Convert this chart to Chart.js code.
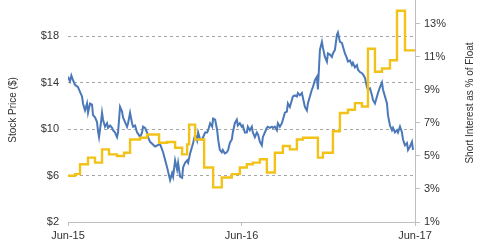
<!DOCTYPE html>
<html lang="en">
<head>
    <meta charset="UTF-8">
    <title>Stock Price vs Short Interest</title>
    <script src="https://cdn.jsdelivr.net/npm/chart.js"></script>
    <style>
        body { margin: 0; background: #fff; }
        #wrap { width: 480px; height: 251px; position: relative; }
    </style>
</head>
<body>
    <div id="wrap"><canvas id="chart"></canvas></div>

    <script>
        // x axis is in weeks from Jun-15
        const xTickWeeks = [0, 52, 104];
        const xTickLabels = ['Jun-15', 'Jun-16', 'Jun-17'];
        const priceTicks = [2, 6, 10, 14, 18];
        const shortTicks = [1, 3, 5, 7, 9, 11, 13];

        // stock price ($)
        const priceWeeks = [
            0, 0.6, 1.0, 1.5, 2.1, 3.0, 3.6, 4.2, 4.5, 5.1, 5.7, 6.0, 6.6, 7.2, 7.5, 8.1, 8.7, 9.0, 9.3, 9.9,
            10.2, 10.5, 11.1, 11.7, 12.0, 12.6, 13.2, 13.5, 14.1, 14.7, 15.0, 15.6, 16.2, 16.5, 17.1, 17.7, 18.0, 18.6, 19.2, 19.5,
            20.1, 20.7, 21.0, 21.6, 22.2, 22.5, 23.1, 23.7, 24.0,
            24.6, 26.1, 27.6, 28.5, 29.7, 30.6, 31.2, 31.5, 32.1, 32.7, 33.0, 33.6, 34.2, 34.5, 35.1, 35.7, 36.0, 36.6, 37.2, 37.5,
            38.1, 38.7, 39.0, 39.6, 40.2, 40.5, 41.1, 41.7, 42.0, 42.6, 43.2, 43.5, 44.1, 44.7, 45.0, 45.5, 46.1, 46.4, 47.0, 47.6,
            48.0, 48.5, 49.1, 49.4, 50.0, 50.6, 50.9, 51.5, 52.1, 52.4, 53.0, 53.6, 53.9, 54.5, 55.1, 55.4, 56.0, 56.6, 57.0, 57.5,
            58.1, 58.4, 59.0, 59.6, 59.9, 60.5, 61.1, 61.4, 62.0, 62.6, 62.9, 63.5, 64.1, 64.4, 65.0, 65.6, 65.9, 66.5, 67.1, 67.4,
            68.0, 68.6, 68.9, 69.5, 70.1, 70.4, 71.0, 71.6, 71.9, 72.5, 73.1, 73.4, 74.0, 74.6, 74.9,
            75.5, 76.1, 76.4, 77.0, 77.6, 77.9, 78.5, 79.1, 79.4, 80.0, 80.6, 80.9, 81.5, 82.1, 82.4, 83.0, 83.6, 83.9, 84.5, 85.1,
            85.4, 86.0, 86.6, 86.9, 87.5, 88.1, 88.4, 89.0, 89.6, 89.9, 90.5, 91.1, 91.4, 92.0, 92.6, 92.9, 93.5, 94.1, 94.4, 95.0,
            95.6, 95.9, 96.5, 97.1, 97.4, 98.0, 98.6, 98.9, 99.5, 100.1, 100.4, 101.0, 101.6, 101.9, 102.5, 103.1, 103.4
        ];
        const prices = [
            14.5, 14.1, 14.6, 14.2, 13.8, 13.6, 13.2, 12.8, 12.2, 11.6, 12.2, 11.4, 12.2, 12.1, 11.2, 11.0, 10.6, 9.8, 9.3, 10.6,
            11.4, 10.8, 10.2, 10.5, 10.1, 10.3, 10.1, 9.9, 9.7, 9.3, 9.7, 11.9, 11.5, 11.0, 10.6, 10.2, 10.5, 11.4, 10.5, 10.2,
            10.3, 9.7, 9.6, 9.3, 9.7, 10.2, 10.1, 9.7, 9.3,
            8.9, 8.5, 8.7, 8.0, 6.7, 5.6, 6.2, 5.9, 7.3, 6.5, 7.1, 5.9, 5.8, 6.7, 7.1, 7.3, 7.1, 7.9, 8.5, 8.8,
            9.5, 9.0, 9.7, 9.1, 9.1, 9.3, 9.7, 9.7, 9.9, 10.5, 10.2, 10.9, 10.8, 9.9, 9.1, 8.2, 8.0, 8.2, 7.9, 8.0,
            8.2, 8.8, 9.1, 9.7, 10.5, 10.8, 10.3, 10.5, 10.2, 10.3, 9.7, 9.7, 10.2, 9.9, 10.2, 9.7, 9.3, 9.7, 9.5, 8.9,
            8.6, 9.3, 9.7, 10.1, 10.2, 10.1, 10.2, 10.1, 10.2, 9.9, 10.5, 10.2, 10.5, 10.8, 11.4, 11.5, 12.2, 11.9, 12.5, 12.8,
            12.9, 12.8, 13.1, 12.9, 13.1, 12.7, 11.9, 11.6, 12.2, 12.8, 13.4, 13.6, 14.2, 14.5, 13.4,
            16.8, 17.5, 17.0, 16.2, 15.8, 16.5, 16.4, 16.2, 16.5, 16.8, 18.1, 18.3, 17.5, 17.4, 17.1, 16.5, 16.1, 15.8, 15.9, 15.5,
            15.7, 15.3, 15.5, 15.1, 14.9, 14.8, 14.7, 14.4, 13.6, 13.4, 13.5, 12.9, 12.5, 12.2, 12.8, 13.1, 13.6, 14.0, 13.4, 12.8,
            12.2, 11.2, 10.3, 9.9, 10.1, 9.7, 9.9, 9.7, 10.2, 9.7, 9.1, 8.6, 8.8, 8.2, 8.5, 8.9, 8.2
        ];

        // short interest (% of float), value holds until the next report
        const shortWeeks = [
            0, 2.1, 3.6, 6.0, 8.1, 10.2, 12.3, 14.7, 16.8, 18.6, 21.6, 23.7, 27.3, 29.7, 32.1, 34.2, 35.7, 36.3, 38.1, 40.8,
            43.5, 46.1, 49.1, 51.5, 53.6, 55.4, 57.5, 59.6, 62.0, 64.4, 66.5, 68.6, 70.4, 74.9, 76.4, 79.4, 81.5, 83.9, 86.0, 88.1,
            89.9, 92.0, 94.1, 96.5, 98.6, 101.0, 104
        ];
        const shortPct = [
            3.8, 3.9, 4.5, 4.9, 4.6, 5.4, 5.1, 5.0, 5.2, 6.0, 6.1, 6.3, 5.8, 5.85, 5.5, 5.1, 5.7, 6.9, 6.0, 4.3,
            3.1, 3.7, 3.9, 4.3, 4.5, 4.6, 4.8, 4.0, 5.2, 5.6, 5.4, 6.0, 6.1, 4.9, 5.2, 6.5, 7.6, 7.8, 8.2, 8.0,
            11.5, 10.1, 10.3, 10.8, 13.8, 11.4, 11.4
        ];

        const axisGray = '#bfbfbf';
        const textColor = '#333333';
        const tickFont = { family: 'Liberation Sans, Arial, sans-serif', size: 11 };

        // side titles read bottom-to-top on both sides
        const sideTitles = {
            id: 'sideTitles',
            afterDraw(chart) {
                const ctx = chart.ctx;
                ctx.save();
                ctx.fillStyle = textColor;
                ctx.font = '10px "Liberation Sans", Arial, sans-serif';
                ctx.textAlign = 'center';
                ctx.textBaseline = 'middle';
                [[13, 110, 'Stock Price ($)'], [470, 103, 'Short Interest as % of Float']].forEach(t => {
                    ctx.save();
                    ctx.translate(t[0], t[1]);
                    ctx.rotate(-Math.PI / 2);
                    ctx.fillText(t[2], 0, 0);
                    ctx.restore();
                });
                ctx.restore();
            }
        };

        new Chart(document.getElementById('chart'), {
            type: 'line',
            data: {
                datasets: [{
                    label: 'Short Interest',
                    data: shortWeeks.map((w, i) => ({ x: w, y: shortPct[i] })),
                    yAxisID: 'y2',
                    borderColor: '#f2c218',
                    borderWidth: 2.4,
                    stepped: true,
                    pointRadius: 0,
                    fill: false
                }, {
                    label: 'Stock Price',
                    data: priceWeeks.map((w, i) => ({ x: w, y: prices[i] })),
                    yAxisID: 'y',
                    borderColor: '#4a78b8',
                    borderWidth: 2,
                    pointRadius: 0,
                    tension: 0,
                    fill: false
                }]
            },
            options: {
                responsive: true,
                maintainAspectRatio: false,
                animation: false,
                layout: { padding: 0 },
                plugins: { legend: { display: false }, tooltip: { enabled: false } },
                scales: {
                    x: {
                        type: 'linear',
                        min: 0,
                        max: 104,
                        afterBuildTicks: s => { s.ticks = xTickWeeks.map(v => ({ value: v })); },
                        afterFit: s => { s.height = 29; },
                        ticks: {
                            callback: (v) => xTickLabels[xTickWeeks.indexOf(v)],
                            color: textColor,
                            font: tickFont,
                            padding: 3,
                            maxRotation: 0,
                            autoSkip: false
                        },
                        grid: { drawOnChartArea: false, drawTicks: true, tickLength: 4, color: axisGray },
                        border: { display: true, color: axisGray }
                    },
                    y: {
                        position: 'left',
                        min: 2,
                        max: 21.1,
                        afterBuildTicks: s => { s.ticks = priceTicks.map(v => ({ value: v })); },
                        afterFit: s => { s.width = 68; s.paddingTop = 0; s.paddingBottom = 0; },
                        ticks: {
                            callback: v => '$' + v,
                            color: textColor,
                            font: tickFont,
                            padding: 9
                        },
                        grid: {
                            drawTicks: false,
                            color: ctx => ctx.tick && ctx.tick.value === 2 ? 'rgba(0,0,0,0)' : '#a6a6a6',
                            lineWidth: 1
                        },
                        border: { display: false, dash: [3, 3] }
                    },
                    y2: {
                        position: 'right',
                        min: 1,
                        max: 14.45,
                        afterBuildTicks: s => { s.ticks = shortTicks.map(v => ({ value: v })); },
                        afterFit: s => { s.width = 65; s.paddingTop = 0; s.paddingBottom = 0; },
                        ticks: {
                            callback: v => v + '%',
                            color: textColor,
                            font: tickFont,
                            padding: 4
                        },
                        grid: { drawOnChartArea: false, drawTicks: true, tickLength: 5, color: axisGray },
                        border: { display: true, color: axisGray }
                    }
                }
            },
            plugins: [sideTitles]
        });
    </script>
</body>
</html>
